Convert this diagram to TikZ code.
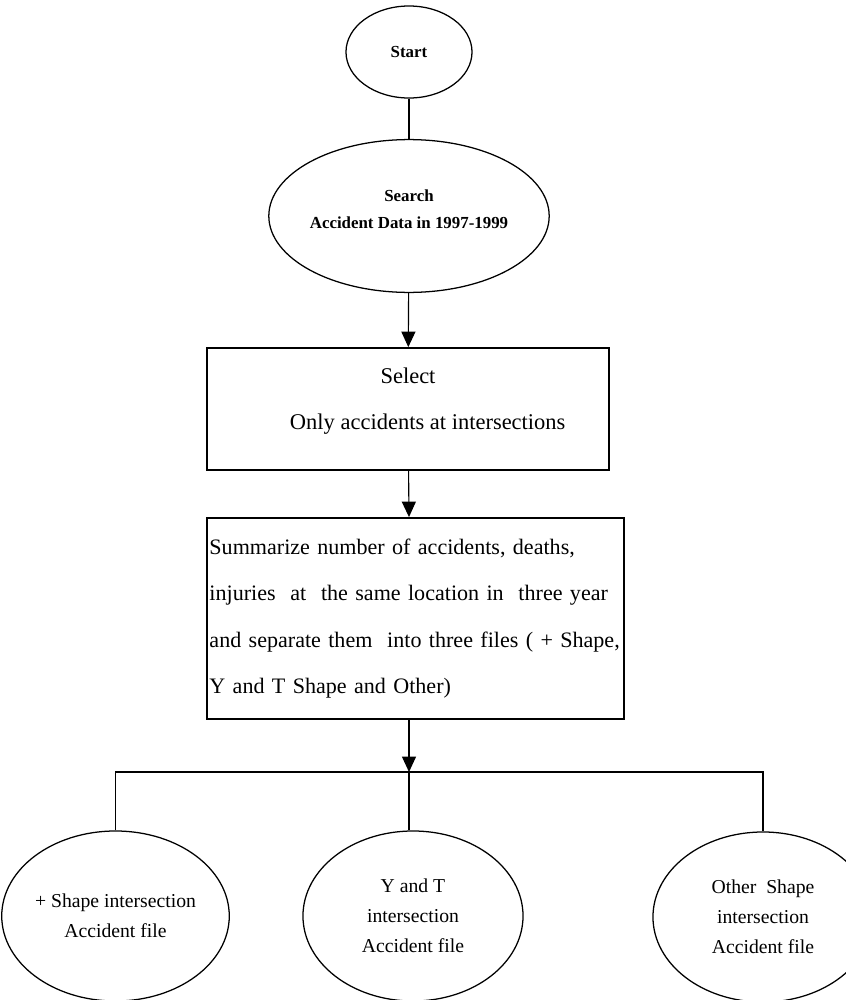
\documentclass[tikz,border=0pt]{standalone}
\usepackage{fontspec}
\setmainfont{Liberation Serif}
\usetikzlibrary{positioning,arrows.meta,shapes.geometric}

\begin{document}
\begin{tikzpicture}[x=0.025cm, y=-0.025cm, >={Triangle[length=11pt,width=10pt]}, oval/.style = {ellipse, draw, line width=0.9pt, inner sep=0pt, align=center}, box/.style = {rectangle, draw, line width=1.3pt, inner sep=2pt}, link/.style = {line width=0.8pt}, leaf/.style = {oval, minimum width=5.5cm, minimum height=4.25cm, font=\fontsize{14}{21.5}\selectfont}]

\useasboundingbox (0,0) rectangle (846,1000);

\node[oval, minimum width=3.15cm, minimum height=2.3cm, font=\bfseries\fontsize{12}{14}\selectfont] (s) at (409,52) {Start};
\node[oval, minimum width=6.05cm, minimum height=3.82cm, font=\bfseries\fontsize{12}{19}\selectfont] (d) at (409,216) {Search\\Accident Data in 1997-1999\\[-9pt]};
\node[box, minimum width=10.05cm, minimum height=3.05cm] (sel) at (408,409) {};
\node[align=center, font=\fontsize{16}{32.7}\selectfont] (selt) at (408,401) {Select\\\hspace*{28pt}Only accidents at intersections};
\node[box, minimum width=10.425cm, minimum height=5.025cm, text width=10.3cm, align=left, font=\fontsize{15.7}{32.9}\selectfont] (sum) at (415.5,618.5) {Summarize number of accidents, deaths,\\injuries\ \ at\ \ the same location in\ \ three year\\\mbox{and separate them\ \ into three files ( + Shape,}\\Y and T Shape and Other)};

\node[leaf] (a) at (115.5,916) {+ Shape intersection\\Accident file};
\node[leaf] (b) at (413,916) {Y and T\\intersection\\Accident file};
\node[leaf] (c) at (763,917) {Other\ \ Shape\\intersection\\Accident file};

\coordinate (j) at (409,772);

\draw[link] (s) -- (d);
\draw[link, ->] (d) -- (sel);
\draw[link, ->] (sel) -- (j |- sum.north);
\draw[link, ->] (j |- sum.south) -- (j);
\draw[link] (a.north) |- (j) -| (c.north);
\draw[link] (j) -- (j |- b.north);
\end{tikzpicture}
\end{document}
